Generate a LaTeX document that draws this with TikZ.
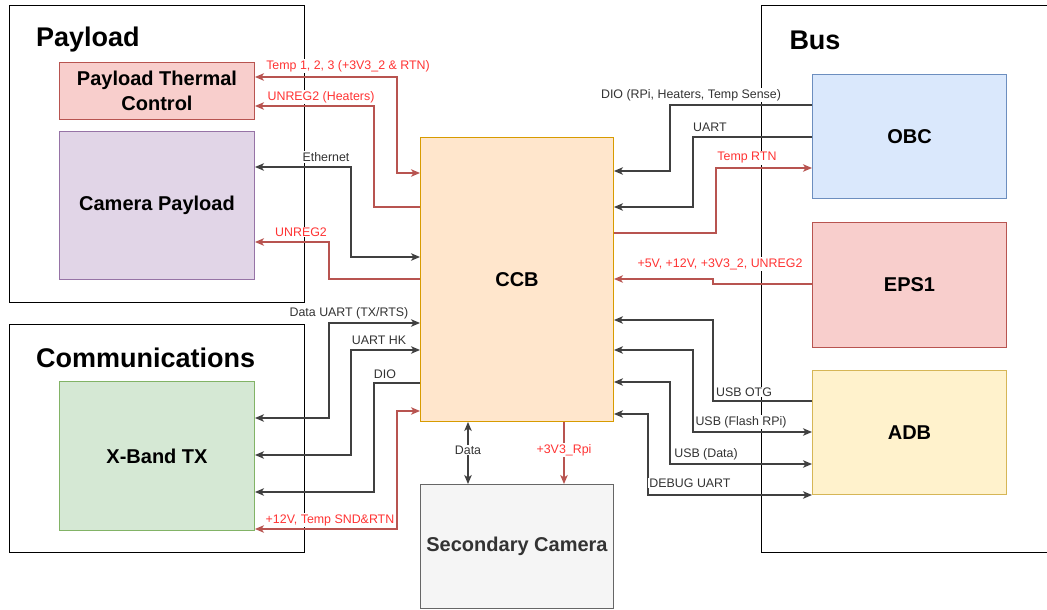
\documentclass[tikz,border=0pt]{standalone}
\usepackage{fontspec}
\setmainfont{Liberation Sans}
\usepackage{xcolor}
\usetikzlibrary{arrows.meta,positioning}

\definecolor{wirecol}{HTML}{404040}
\definecolor{txtcol}{HTML}{333333}
\definecolor{redline}{HTML}{B85450}
\definecolor{redtxt}{HTML}{FF3333}

\begin{document}
\begin{tikzpicture}[
    x=1pt, y=-1pt,
    >={Stealth[length=9pt,width=7.5pt,inset=2.5pt]},
    group/.style={draw=black, line width=1.1pt, fill=white, anchor=north west, inner sep=0pt},
    title/.style={font=\bfseries\fontsize{27}{30}\selectfont, anchor=west, inner sep=0pt},
    box/.style={draw, line width=1pt, anchor=north west, align=center, inner sep=0pt,
      font=\bfseries\fontsize{20}{24.5}\selectfont},
    pink/.style={box, draw=redline, fill={rgb,255:red,248;green,206;blue,204}},
    purp/.style={box, draw={rgb,255:red,150;green,115;blue,166}, fill={rgb,255:red,225;green,213;blue,231}},
    grn/.style={box, draw={rgb,255:red,130;green,179;blue,102}, fill={rgb,255:red,213;green,232;blue,212}},
    orng/.style={box, draw={rgb,255:red,215;green,155;blue,0}, fill={rgb,255:red,255;green,230;blue,204}},
    gry/.style={box, draw={rgb,255:red,102;green,102;blue,102}, fill={rgb,255:red,245;green,245;blue,245}, text=txtcol},
    blu/.style={box, draw={rgb,255:red,108;green,142;blue,191}, fill={rgb,255:red,218;green,232;blue,252}},
    yel/.style={box, draw={rgb,255:red,214;green,182;blue,86}, fill={rgb,255:red,255;green,242;blue,204}},
    wire/.style={draw=wirecol, line width=1.1pt},
    rwire/.style={draw=redline, line width=1.1pt},
    lbl/.style={font=\fontsize{12.4}{14}\selectfont, text=txtcol, fill=white, inner sep=1pt},
    rlbl/.style={lbl, text=redtxt}
  ]
    \useasboundingbox (0,0) rectangle (1047,610);

    % groups
    \node[group, minimum width=295pt, minimum height=297pt] (payload) at (9,5) {};
    \node[group, minimum width=295pt, minimum height=228pt] (comms) at (9,324) {};
    \node[group, minimum width=320pt, minimum height=547pt] (bus) at (761,5) {};
    \node[title] (tpay) at (36,40) {Payload};
    \node[title] (tcom) at (36,358) {Communications};
    \node[title, anchor=center] (tbus) at (815,40) {Bus};

    % blocks
    \node[pink, minimum width=195pt, minimum height=57pt] (ptc) at (59,62) {Payload Thermal\\Control};
    \node[purp, minimum width=195pt, minimum height=148pt] (cam) at (59,131) {Camera Payload};
    \node[grn, minimum width=195pt, minimum height=149pt] (xband) at (59,381) {X-Band TX};
    \node[orng, minimum width=193pt, minimum height=284pt] (ccb) at (420,137) {CCB};
    \node[gry, minimum width=193pt, minimum height=124pt] (sec) at (420,484) {Secondary Camera};
    \node[blu, minimum width=194pt, minimum height=124pt] (obc) at (812,74) {OBC};
    \node[pink, minimum width=194pt, minimum height=125pt] (eps) at (812,222) {EPS1};
    \node[yel, minimum width=194pt, minimum height=124pt] (adb) at (812,370) {ADB};

    % left side links
    \draw[rwire, <->] (ptc.east |- 0,77) -| (397,173) -- (ccb.west |- 0,173);
    \draw[rwire, ->] (ccb.west |- 0,207) -| (374,106) -- (ptc.east |- 0,106);
    \draw[wire, <->] (cam.east |- 0,167) -| (351,257) -- (ccb.west |- 0,257);
    \draw[rwire, ->] (ccb.west |- 0,279) -| (329,242) -- (cam.east |- 0,242);
    \draw[wire, <->] (xband.east |- 0,418) -| (329,323) -- (ccb.west |- 0,323);
    \draw[wire, <->] (xband.east |- 0,455) -| (351,350) -- (ccb.west |- 0,350);
    \draw[wire, ->] (ccb.west |- 0,383) -| (374,492) -- (xband.east |- 0,492);
    \draw[rwire, <->] (xband.east |- 0,529) -| (397,411) -- (ccb.west |- 0,411);

    % right side links
    \draw[wire, ->] (obc.west |- 0,105) -| (670,171) -- (ccb.east |- 0,171);
    \draw[wire, ->] (obc.west |- 0,137) -| (693,207) -- (ccb.east |- 0,207);
    \draw[rwire, ->] (ccb.east |- 0,233) -| (716,168) -- (obc.west |- 0,168);
    \draw[rwire, ->] (eps.west |- 0,284) -| (713,279) -- (ccb.east |- 0,279);
    \draw[wire, ->] (adb.west |- 0,401) -| (713,320) -- (ccb.east |- 0,320);
    \draw[wire, <->] (ccb.east |- 0,350) -| (693,432) -- (adb.west |- 0,432);
    \draw[wire, <->] (ccb.east |- 0,382) -| (670,464) -- (adb.west |- 0,464);
    \draw[wire, <->] (ccb.east |- 0,414) -| (648,495) -- (adb.west |- 0,495);

    % bottom links
    \draw[wire, <->] (ccb.south -| 468,0) -- (sec.north -| 468,0);
    \draw[rwire, ->] (ccb.south -| 564,0) -- (sec.north -| 564,0);

    % labels
    \node[rlbl] (lTemp) at (348,66) {Temp 1, 2, 3 (+3V3\_2 \& RTN)};
    \node[rlbl] (lHeat) at (321,97) {UNREG2 (Heaters)};
    \node[lbl] (lEth) at (326,157) {Ethernet};
    \node[rlbl] (lUnreg) at (301,232) {UNREG2};
    \node[lbl] (lDuart) at (349,313) {Data UART (TX/RTS)};
    \node[lbl] (lHK) at (379,340) {UART HK};
    \node[lbl] (lDio) at (385,374) {DIO};
    \node[rlbl] (lTwelve) at (330,520) {+12V, Temp SND\&RTN};
    \node[lbl] (lData) at (468,450) {Data};
    \node[rlbl] (lRpi) at (564,450) {+3V3\_Rpi};
    \node[lbl] (lDioR) at (691,95) {DIO (RPi, Heaters, Temp Sense)};
    \node[lbl] (lUart) at (710,127) {UART};
    \node[rlbl] (lRtn) at (747,158) {Temp RTN};
    \node[rlbl] (lPwr) at (720,264) {+5V, +12V, +3V3\_2, UNREG2};
    \node[lbl] (lOtg) at (744,392) {USB OTG};
    \node[lbl] (lFlash) at (741,422) {USB (Flash RPi)};
    \node[lbl] (lUsbD) at (706,454) {USB (Data)};
    \node[lbl] (lDbg) at (690,483) {DEBUG UART};
  \end{tikzpicture}
\end{document}
